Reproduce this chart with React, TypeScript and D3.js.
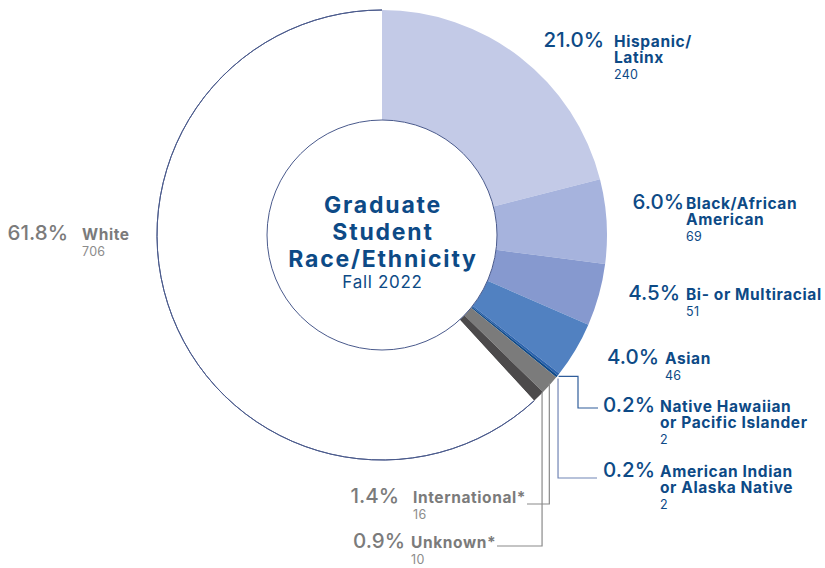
import React from "react";
import * as d3 from "d3";

const categories = [
  "Hispanic/Latinx",
  "Black/African American",
  "Bi- or Multiracial",
  "Asian",
  "Native Hawaiian or Pacific Islander",
  "American Indian or Alaska Native",
  "International*",
  "Unknown*",
  "White",
];
const labelLines = [
  ["Hispanic/", "Latinx"],
  ["Black/African", "American"],
  ["Bi- or Multiracial"],
  ["Asian"],
  ["Native Hawaiian", "or Pacific Islander"],
  ["American Indian", "or Alaska Native"],
  ["International*"],
  ["Unknown*"],
  ["White"],
];
const counts = [240, 69, 51, 46, 2, 2, 16, 10, 706];
const colors = ["#c3cae7", "#a6b3dd", "#8699cf", "#5181c1", "#2a62ad", "#0e4a8a", "#7b7b7b", "#4c4a4b", "#ffffff"];

const W = 825, H = 568;
const cx = 382, cy = 235, R = 225, r = 115;
const BLUE = "#0d4a86";
const GRAY = "#7b7b7b";
const FONT = "Inter, 'Open Sans', sans-serif";

// label layout: percent right edge x, name x, first baseline y, text colour
const layout = [
  { px: 604, nx: 614, y: 47, c: BLUE },
  { px: 684, nx: 686, y: 209, c: BLUE },
  { px: 680, nx: 686, y: 300, c: BLUE },
  { px: 659, nx: 665, y: 364, c: BLUE },
  { px: 655, nx: 660, y: 412, c: BLUE },
  { px: 655, nx: 660, y: 477, c: BLUE },
  { px: 399, nx: 413, y: 503, c: GRAY },
  { px: 405, nx: 411, y: 548, c: GRAY },
  { px: 68, nx: 82, y: 240, c: GRAY },
];

export default function App() {
  const total = d3.sum(counts);
  const pie = d3.pie<number>().sort(null).value((d) => d)(counts);
  const arc = d3.arc<d3.PieArcDatum<number>>().innerRadius(r).outerRadius(R);
  const fmt = d3.format(".1%");
  const pt = (a: number, rad: number) => [cx + rad * Math.sin(a), cy - rad * Math.cos(a)];
  const mid = (i: number) => (pie[i].startAngle + pie[i].endAngle) / 2;

  const white = pie[8];
  const outerArc = d3.arc()({ innerRadius: R, outerRadius: R, startAngle: white.startAngle, endAngle: white.endAngle } as any);

  // leader lines
  const [nx, ny] = pt(mid(4), R);
  const [ax, ay] = pt(mid(5), R);
  const [ix, iy] = pt(mid(6), R - 2);
  const [ux, uy] = pt(pie[7].startAngle + 0.01, R - 2);
  const leaders = [
    { d: `M${nx},${ny + 2}H578V${layout[4].y - 4}H598`, c: "#2f5d9a" },
    { d: `M${ax + 1},${ay + 2}V${layout[5].y + 1}H597`, c: "#7185b5" },
    { d: `M${ix + 1},${iy}V${layout[6].y + 1}H527`, c: "#8a8a8a" },
    { d: `M${ux + 2},${uy}V${layout[7].y - 2}H497`, c: "#8a8a8a" },
  ];

  return (
    <svg width={W} height={H} style={{ position: "absolute", left: 0, top: 0 }} fontFamily={FONT}>
      <rect width={W} height={H} fill="#fff" />
      <g transform={`translate(${cx},${cy})`}>
        {pie.map((p, i) => (
          <path key={categories[i]} d={arc(p) as string} fill={colors[i]} />
        ))}
        <path d={outerArc as string} fill="none" stroke="#4a5a8c" strokeWidth={1} />
        <circle r={r} fill="#fff" stroke="#4a5a8c" strokeWidth={1} />
      </g>
      {leaders.map((l, i) => (
        <path key={i} d={l.d} fill="none" stroke={l.c} strokeWidth={1.2} />
      ))}
      <g fill={BLUE} textAnchor="middle">
        <text x={cx + 1} y={213} fontSize={23} fontWeight={700} letterSpacing={1.8}>Graduate</text>
        <text x={cx + 1} y={240} fontSize={23} fontWeight={700} letterSpacing={1.8}>Student</text>
        <text x={cx + 1} y={267} fontSize={23} fontWeight={700} letterSpacing={1.8}>Race/Ethnicity</text>
        <text x={cx + 0.5} y={288} fontSize={17} fontWeight={400} letterSpacing={0.7}>Fall 2022</text>
      </g>
      {counts.map((v, i) => {
        const L = layout[i];
        const lines = labelLines[i];
        return (
          <g key={categories[i]} fill={L.c}>
            <text x={L.px} y={L.y} textAnchor="end" fontSize={20.5} fontWeight={500}>
              {fmt(v / total)}
            </text>
            {lines.map((t, j) => (
              <text key={j} x={L.nx} y={L.y + j * 16} fontSize={15.5} fontWeight={700} letterSpacing={0.6}>{t}</text>
            ))}
            <text x={L.nx} y={L.y + lines.length * 16} fontSize={12.5} fontWeight={400} letterSpacing={0.3} fill={L.c === GRAY ? "#8c8c8c" : BLUE}>
              {v}
            </text>
          </g>
        );
      })}
    </svg>
  );
}
